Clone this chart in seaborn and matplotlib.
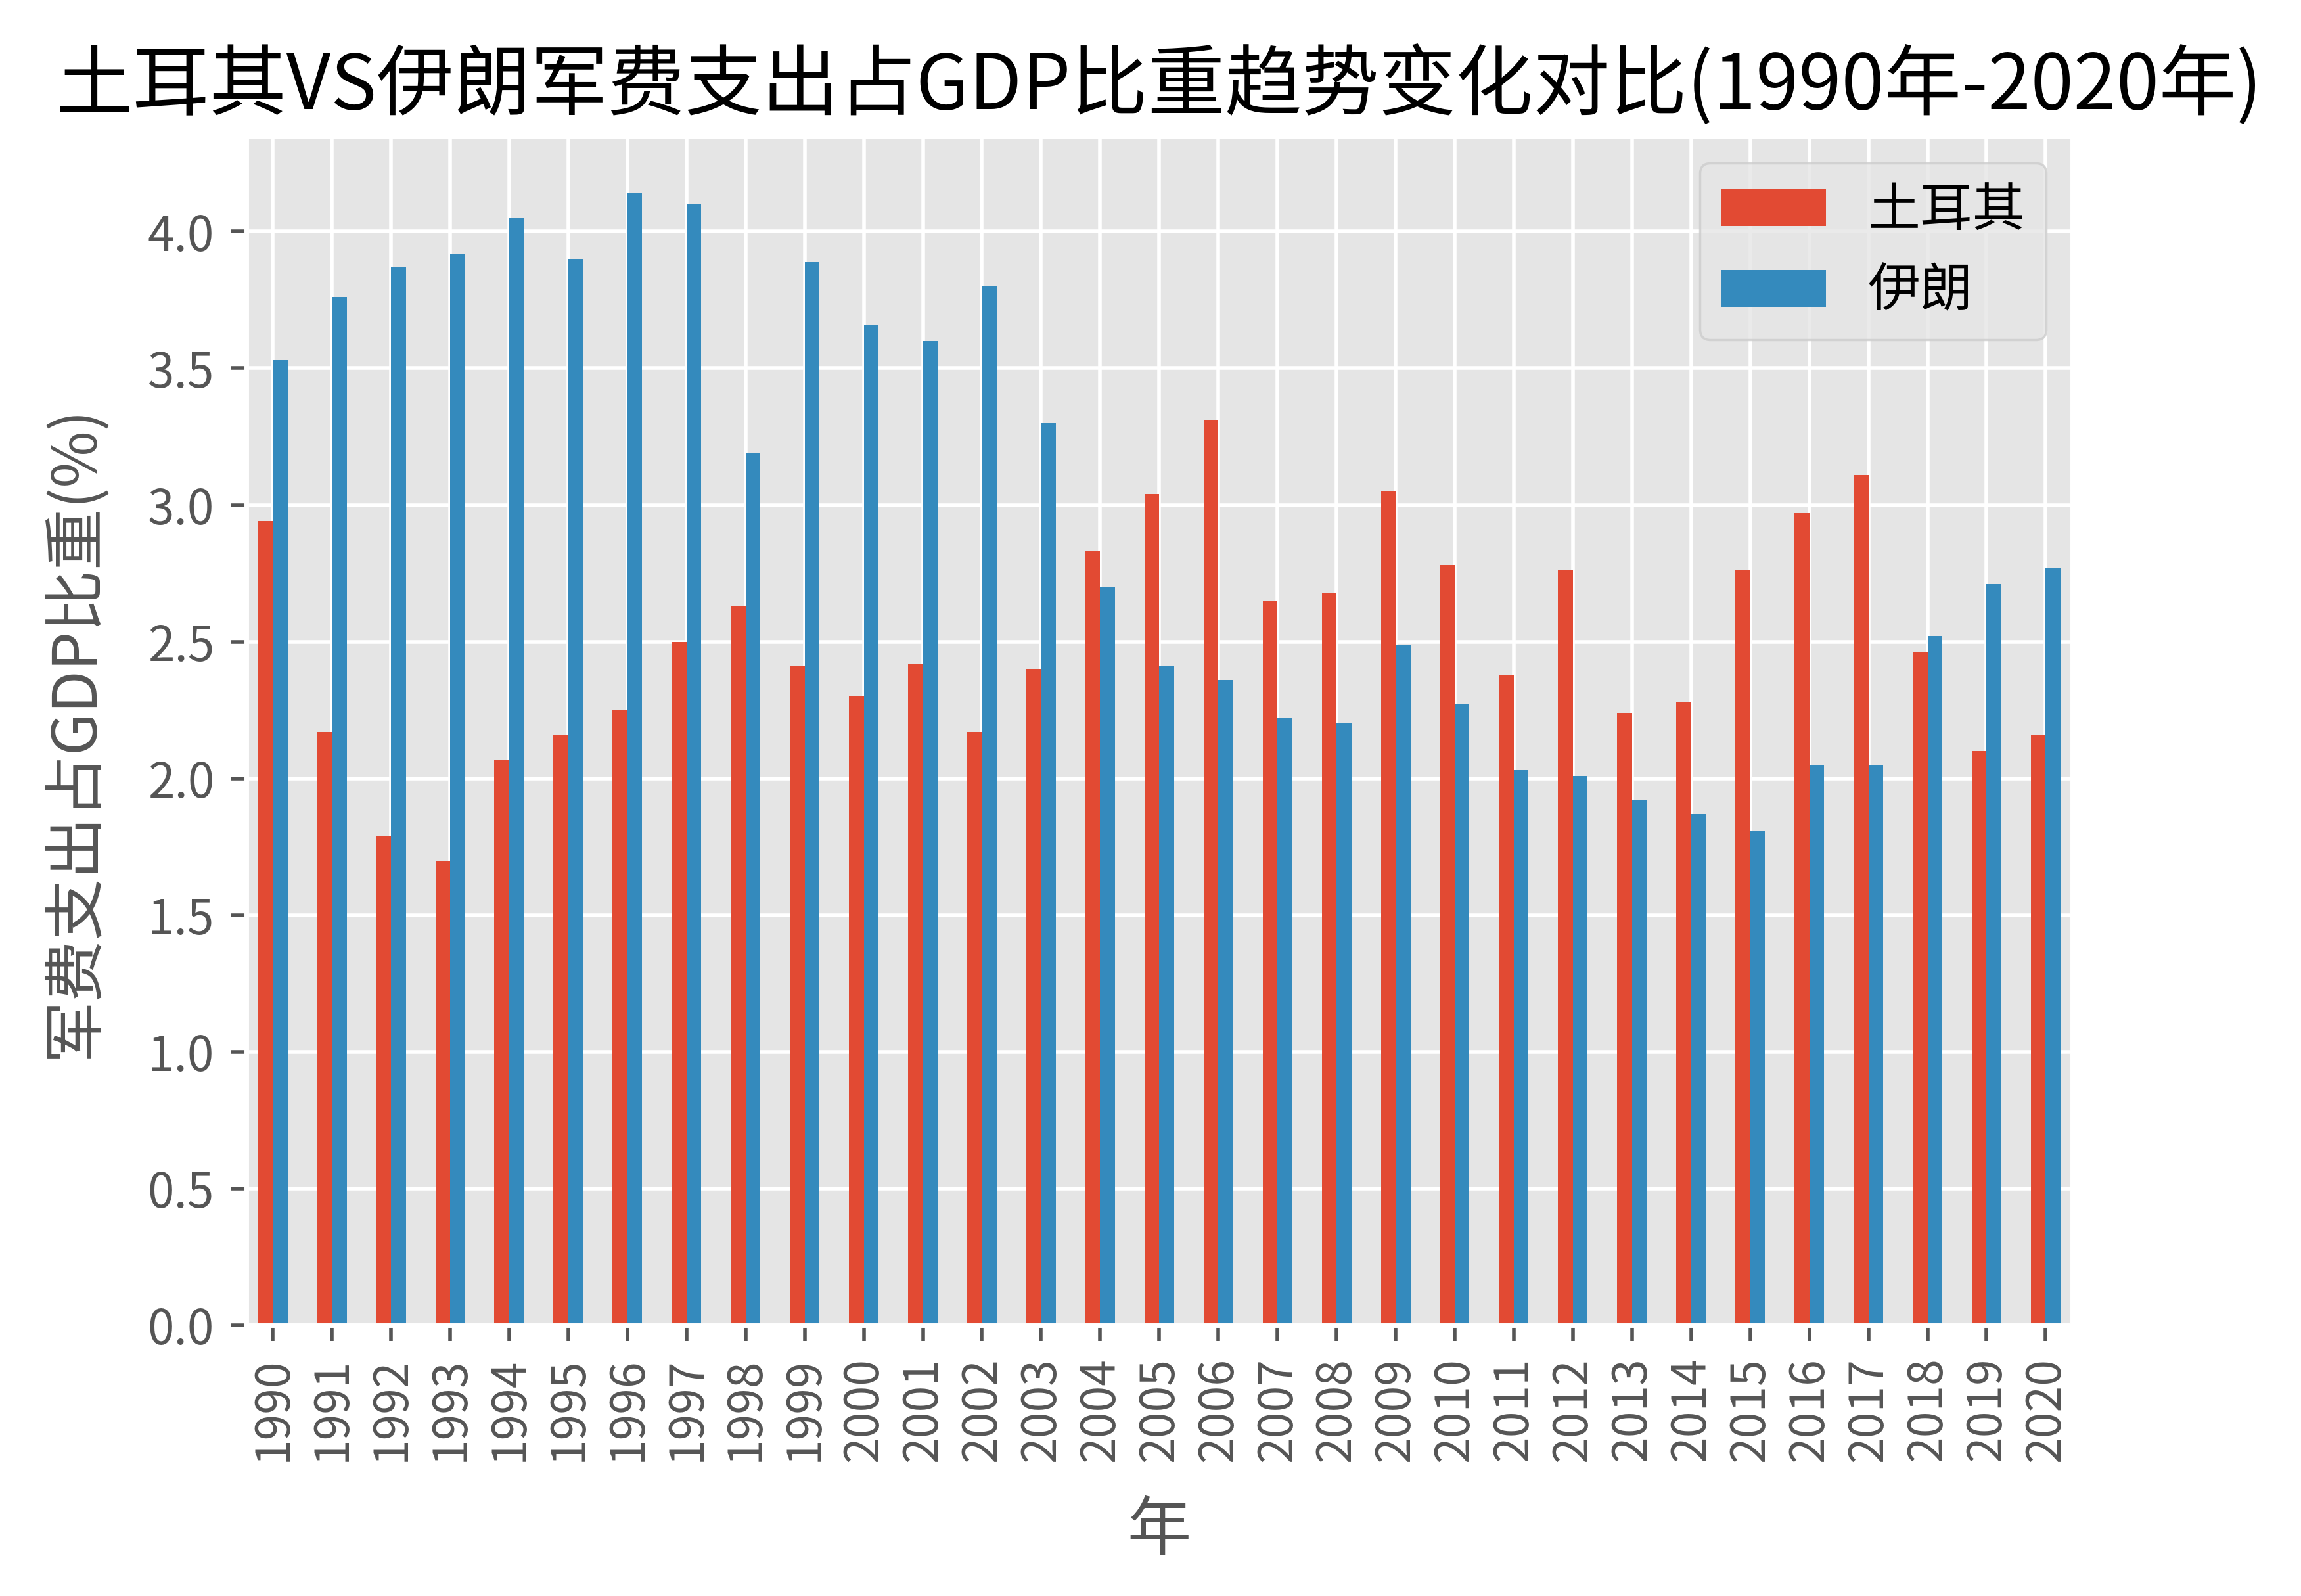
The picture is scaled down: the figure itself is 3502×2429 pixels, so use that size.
import pandas as pd
import seaborn as sns
import matplotlib.pyplot as plt

# 年份与两国军费支出占GDP比重(%)
years = ['1990', '1991', '1992', '1993', '1994', '1995', '1996', '1997', '1998', '1999',
         '2000', '2001', '2002', '2003', '2004', '2005', '2006', '2007', '2008', '2009',
         '2010', '2011', '2012', '2013', '2014', '2015', '2016', '2017', '2018', '2019', '2020']
turkey = [2.94, 2.17, 1.79, 1.70, 2.07, 2.16, 2.25, 2.50, 2.63, 2.41,
          2.30, 2.42, 2.17, 2.40, 2.83, 3.04, 3.31, 2.65, 2.68, 3.05,
          2.78, 2.38, 2.76, 2.24, 2.28, 2.76, 2.97, 3.11, 2.46, 2.10, 2.16]
iran = [3.53, 3.76, 3.87, 3.92, 4.05, 3.90, 4.14, 4.10, 3.19, 3.89,
        3.66, 3.60, 3.80, 3.30, 2.70, 2.41, 2.36, 2.22, 2.20, 2.49,
        2.27, 2.03, 2.01, 1.92, 1.87, 1.81, 2.05, 2.05, 2.52, 2.71, 2.77]
countries = ['土耳其', '伊朗']

df = pd.DataFrame({'年': years * 2,
                   '比重': turkey + iran,
                   '国家': [countries[0]] * len(years) + [countries[1]] * len(years)})

plt.style.use('ggplot')
plt.rcParams['font.family'] = ['Noto Sans CJK SC', 'DejaVu Sans']

fig, ax = plt.subplots(figsize=(7.004, 4.858), dpi=500)
fig.subplots_adjust(left=0.107, right=0.9006, top=0.9144, bottom=0.1696)

sns.barplot(data=df, x='年', y='比重', hue='国家', palette=['#E24A33', '#348ABD'],
            width=0.5, saturation=1, linewidth=0, ax=ax)

# seaborn hides the categorical grid; ggplot style keeps it
ax.xaxis.grid(True)
ax.set_axisbelow(True)
ax.set_xlim(-0.45, len(years) - 0.55)

old = ax.get_legend()
handles = old.legend_handles
labels = [t.get_text() for t in old.get_texts()]
old.remove()
ax.legend(handles, labels, loc='upper right', fontsize=11.5)

ax.tick_params(axis='x', labelrotation=90, labelsize=10.3)
ax.tick_params(axis='y', labelsize=10.5)

ax.set_title('土耳其VS伊朗军费支出占GDP比重趋势变化对比(1990年-2020年)', fontsize=16.9, color='black')
ax.set_xlabel('年', fontsize=14, labelpad=8)
ax.set_ylabel('军费支出占GDP比重(%)', fontsize=13.5, labelpad=9)

plt.savefig('out.png', dpi=500)
